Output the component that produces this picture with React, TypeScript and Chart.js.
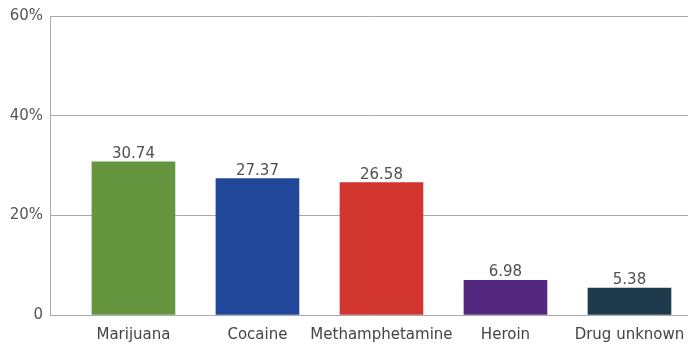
import React, { useEffect, useRef } from "react";
import { Chart, registerables } from "chart.js";

Chart.register(...registerables);

const categories = ["Marijuana", "Cocaine", "Methamphetamine", "Heroin", "Drug unknown"];
const values = [30.74, 27.37, 26.58, 6.98, 5.38];
const barColors = ["#65963f", "#21479a", "#d2352e", "#55287f", "#1e3a4d"];
const yTicks = [0, 20, 40, 60];

const FONT = "'DejaVu Sans', sans-serif";

const valueLabels = {
  id: "valueLabels",
  afterDatasetsDraw(chart: any) {
    const ctx = chart.ctx;
    const meta = chart.getDatasetMeta(0);
    ctx.save();
    ctx.font = "15px " + FONT;
    ctx.fillStyle = "#505050";
    ctx.textAlign = "center";
    ctx.textBaseline = "alphabetic";
    meta.data.forEach((bar: any, i: number) => {
      ctx.fillText(values[i].toFixed(2), bar.x, bar.y - 4);
    });
    ctx.restore();
  },
};

export default function App() {
  const ref = useRef<HTMLCanvasElement>(null);
  useEffect(() => {
    document.body.style.margin = "0";
    const chart = new Chart(ref.current!, {
      type: "bar",
      data: {
        datasets: [
          {
            data: values.map((v, i) => ({ x: i, y: v })),
            backgroundColor: barColors,
            barThickness: 83,
          },
        ],
      },
      options: {
        animation: false,
        responsive: false,
        maintainAspectRatio: false,
        layout: { padding: { top: 16, right: 0, left: 0, bottom: 0 } },
        plugins: { legend: { display: false }, tooltip: { enabled: false } },
        scales: {
          x: {
            type: "linear",
            offset: false,
            min: -0.673,
            max: 4.472,
            afterBuildTicks: (scale: any) => {
              scale.ticks = categories.map((_, i) => ({ value: i }));
            },
            afterFit: (scale: any) => {
              scale.height = 33;
              scale.paddingLeft = 0;
              scale.paddingRight = 0;
            },
            ticks: {
              autoSkip: false,
              maxRotation: 0,
              padding: 11,
              color: "#444444",
              font: { family: FONT, size: 15 },
              callback: (v: any) => categories[v as number] ?? "",
            },
            grid: { display: false, drawTicks: false, offset: false },
            border: { display: true, color: "#aaaaaa", width: 1 },
          },
          y: {
            min: 0,
            max: 60,
            afterBuildTicks: (scale: any) => {
              scale.ticks = yTicks.map((v) => ({ value: v }));
            },
            afterFit: (scale: any) => {
              scale.width = 50;
              scale.paddingTop = 0;
              scale.paddingBottom = 0;
            },
            ticks: {
              padding: 7,
              color: "#555555",
              font: { family: FONT, size: 15 },
              callback: (v: any) => (v === 0 ? "0" : v + "%"),
            },
            grid: { color: "#aaaaaa", lineWidth: 1, drawTicks: false },
            border: { display: true, color: "#aaaaaa", width: 1 },
          },
        },
      } as any,
      plugins: [valueLabels],
    });
    return () => chart.destroy();
  }, []);
  return (
    <div style={{ width: 688, height: 348 }}>
      <canvas ref={ref} width={688} height={348} />
    </div>
  );
}
